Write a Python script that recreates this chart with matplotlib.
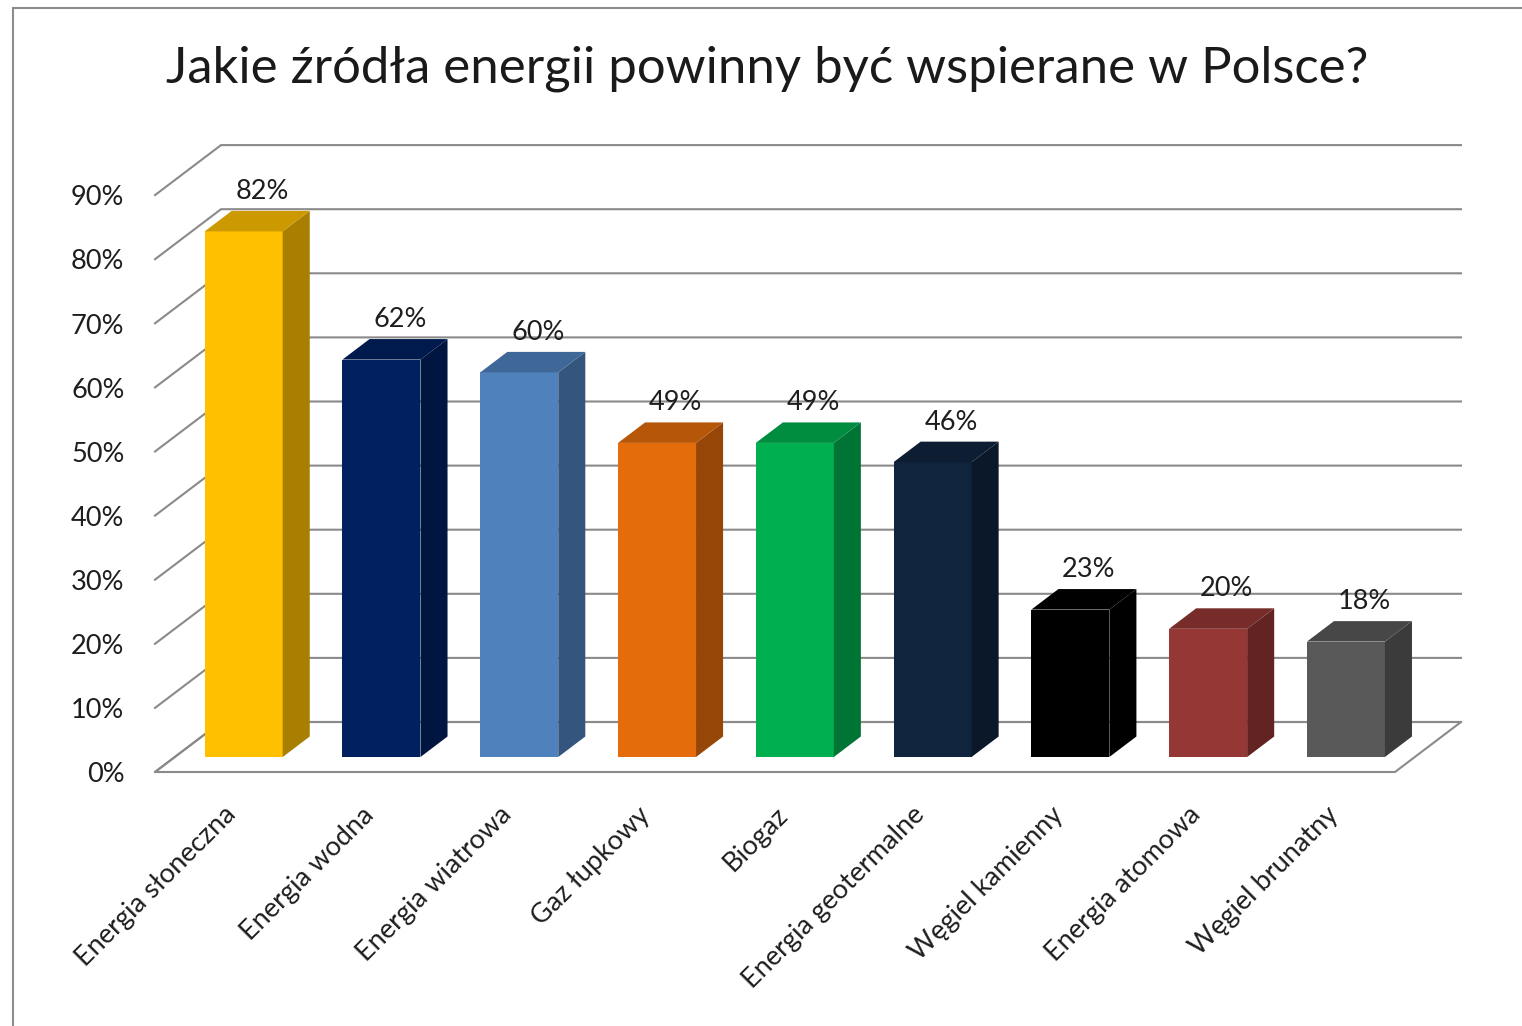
import matplotlib
matplotlib.use('Agg')
import matplotlib.pyplot as plt
from matplotlib.patches import Polygon, Rectangle
from matplotlib.colors import to_rgb

# ---------------- data ----------------
title = 'Jakie źródła energii powinny być wspierane w Polsce?'
categories = ['Energia słoneczna', 'Energia wodna', 'Energia wiatrowa', 'Gaz łupkowy',
              'Biogaz', 'Energia geotermalne', 'Węgiel kamienny', 'Energia atomowa',
              'Węgiel brunatny']
values = [82, 62, 60, 49, 49, 46, 23, 20, 18]
value_labels = ['82%', '62%', '60%', '49%', '49%', '46%', '23%', '20%', '18%']
y_ticks = [0, 10, 20, 30, 40, 50, 60, 70, 80, 90]
y_tick_labels = ['0%', '10%', '20%', '30%', '40%', '50%', '60%', '70%', '80%', '90%']
bar_colors = ['#FFC000', '#002060', '#4F81BD', '#E46C0A', '#00B050',
              '#10243E', '#000000', '#953735', '#595959']

# ---------------- layout ----------------
FONT = 'Lato'
LABEL_FS = 19.5
W, H = 1522, 1026
fig = plt.figure(figsize=(W / 100, H / 100), dpi=100)
X0, X1 = 155, 1395      # front floor edge (px)
Y0, Y100 = 772, 131     # 0% and 100% on front plane (px from top)
ax = fig.add_axes([X0 / W, 1 - Y0 / H, (X1 - X0) / W, (Y0 - Y100) / H])
ax.set_xlim(-0.5, len(categories) - 0.5)
ax.set_ylim(0, 100)
ax.axis('off')

px_x = (X1 - X0) / len(categories)
px_y = (Y0 - Y100) / 100.0
DX = 66 / px_x          # depth offset (data units) for full depth
DY = 50 / px_y
D0, D1 = 0.30, 0.71     # bar front / back depth
BW = 78 / px_x          # bar width
GRID = '#8a8a8a'
XL, XR = -0.5, len(categories) - 0.5


def P(x, v, d):
    return (x + d * DX, v + d * DY)


def shade(c, f):
    r, g, b = to_rgb(c)
    return (r * f, g * f, b * f)


# floor
floor = Polygon([P(XL, 0, 0), P(XR, 0, 0), P(XR, 0, 1), P(XL, 0, 1)], closed=True,
                facecolor='white', edgecolor=GRID, linewidth=1.5, zorder=1, clip_on=False)
ax.add_patch(floor)

# side wall and back wall gridlines
for t in y_ticks:
    a = P(XL, t, 0)
    b = P(XL, t, 1)
    c = P(XR, t, 1)
    ax.plot([a[0], b[0], c[0]], [a[1], b[1], c[1]], color=GRID, lw=1.5,
            zorder=1.5, clip_on=False, solid_joinstyle='miter')

# y tick labels
for t, lab in zip(y_ticks, y_tick_labels):
    ax.annotate(lab, xy=(XL, t), xytext=(-22, -2), textcoords='offset points',
                ha='right', va='center', fontsize=LABEL_FS, family=FONT, color='#1e1e1e')

# bars
xs = list(range(len(categories)))
ax.bar([x + D0 * DX for x in xs], values, width=BW, bottom=D0 * DY,
       color=bar_colors, zorder=3, clip_on=False, linewidth=0)
for x, v, c in zip(xs, values, bar_colors):
    side = [P(x + BW / 2, 0, D0), P(x + BW / 2, 0, D1), P(x + BW / 2, v, D1), P(x + BW / 2, v, D0)]
    top = [P(x - BW / 2, v, D0), P(x + BW / 2, v, D0), P(x + BW / 2, v, D1), P(x - BW / 2, v, D1)]
    ax.add_patch(Polygon(side, closed=True, facecolor=shade(c, 0.66), edgecolor='none',
                         zorder=3, clip_on=False))
    ax.add_patch(Polygon(top, closed=True, facecolor=shade(c, 0.80), edgecolor='none',
                         zorder=3, clip_on=False))

# value labels
for x, v, lab in zip(xs, values, value_labels):
    lx = P(x, v, 0.58)[0]
    ly = P(x, v, D1)[1]
    ax.annotate(lab, xy=(lx, ly), xytext=(0, 14), textcoords='offset points',
                ha='center', va='center', fontsize=LABEL_FS, family=FONT, color='#1e1e1e',
                zorder=5)

# category labels
for x, lab in zip(xs, categories):
    ax.annotate(lab, xy=(x, 0), xytext=(6, -28), textcoords='offset points',
                ha='right', va='center', rotation=45, rotation_mode='anchor',
                fontsize=LABEL_FS, family=FONT, color='#1e1e1e')

# title
fig.text(767 / W, 1 - 83 / H, title, ha='center', va='baseline', fontsize=36.6,
         family=FONT, color='#1a1a1a')

# chart border
fig.patches.append(Rectangle((13 / W, -0.02), 1.05, 1 - 8 / H + 0.02, transform=fig.transFigure,
                             facecolor='none', edgecolor='#8c8c8c', linewidth=1.5))

fig.savefig('out.png', dpi=100, facecolor='white')
